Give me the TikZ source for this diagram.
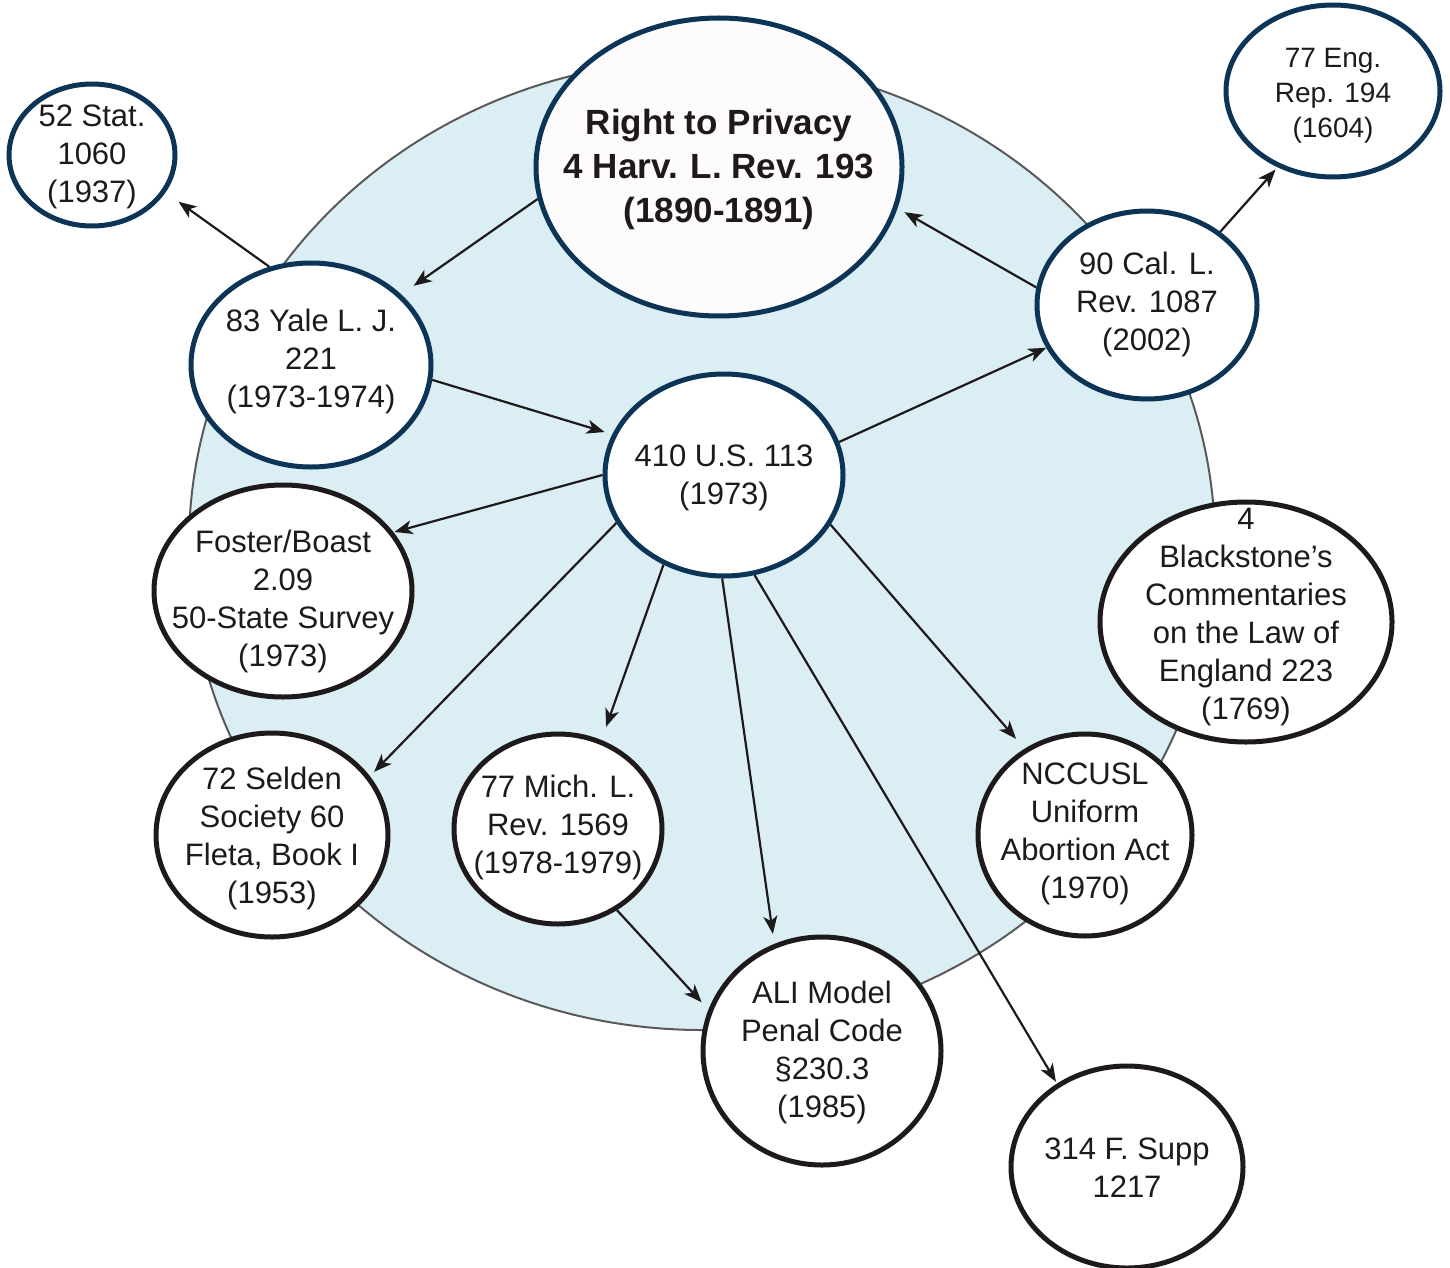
\documentclass[tikz,border=0pt]{standalone}
\usepackage{fontspec}
\setmainfont{Liberation Sans}
\usetikzlibrary{shapes.geometric,arrows.meta}
\definecolor{RingFill}{HTML}{DAEEF4}
\definecolor{RingLine}{HTML}{5A5A5A}
\definecolor{CaseNavy}{HTML}{0C3456}
\definecolor{CaseInk}{HTML}{1E1A1B}
\definecolor{TitleFill}{HTML}{FDFBFC}
% text block that does not grow the ellipse
\newcommand{\casetext}[2]{\raisebox{#1}[0pt][0pt]{\makebox[0pt]{\begin{tabular}[t]{@{}c@{}}#2\end{tabular}}}}

\begin{document}
\begin{tikzpicture}[x=1pt,y=-1pt,
  case/.style={ellipse,inner sep=0pt,fill=white,line width=5pt,text=CaseInk,
    font=\fontsize{31}{38}\selectfont},
  casenavy/.style={case,draw=CaseNavy},
  caseblack/.style={case,draw=CaseInk},
  link/.style={draw=CaseInk,line width=2.2pt,-{Stealth[length=18pt,width=14pt,inset=5pt]}}]
  \useasboundingbox (0,0) rectangle (1450,1268);
  \fill[RingFill,draw=RingLine,line width=2pt] (702,545) ellipse [x radius=513pt,y radius=485pt];

  \node[casenavy,fill=TitleFill,minimum width=366pt,minimum height=298pt,
    font=\fontsize{35}{44}\selectfont\bfseries] (harvard) at (719,167)
    {\casetext{32pt}{Right to Privacy\\4 Harv. L. Rev. 193\\(1890-1891)}};
  \node[casenavy,minimum width=166pt,minimum height=142pt] (stat) at (92,155)
    {\casetext{28pt}{52 Stat.\\1060\\(1937)}};
  \node[casenavy,minimum width=240pt,minimum height=204pt] (yale) at (311,365)
    {\casetext{34pt}{83 Yale L. J.\\221\\(1973-1974)}};
  \node[casenavy,minimum width=214pt,minimum height=172pt,
    font=\fontsize{28}{35}\selectfont] (eng) at (1333,91)
    {\casetext{23pt}{77 Eng.\\Rep. 194\\(1604)}};
  \node[casenavy,minimum width=220pt,minimum height=188pt] (cal) at (1147,305)
    {\casetext{31pt}{90 Cal. L.\\Rev. 1087\\(2002)}};
  \node[casenavy,minimum width=238pt,minimum height=202pt] (us410) at (724,475)
    {\casetext{9pt}{410 U.S. 113\\(1973)}};

  \node[caseblack,minimum width=258pt,minimum height=212pt] (foster) at (283,591)
    {\casetext{39pt}{Foster/Boast\\2.09\\50-State Survey\\(1973)}};
  \node[caseblack,minimum width=232pt,minimum height=204pt] (selden) at (272,835)
    {\casetext{46pt}{72 Selden\\Society 60\\Fleta, Book I\\(1953)}};
  \node[caseblack,minimum width=292pt,minimum height=240pt] (blackstone) at (1246,622)
    {\casetext{93pt}{4\\Blackstone’s\\Commentaries\\on the Law of\\England 223\\(1769)}};
  \node[caseblack,minimum width=214pt,minimum height=202pt] (nccusl) at (1085,835)
    {\casetext{51pt}{NCCUSL\\Uniform\\Abortion Act\\(1970)}};
  \node[caseblack,minimum width=208pt,minimum height=190pt] (mich) at (558,829)
    {\casetext{32pt}{77 Mich. L.\\Rev. 1569\\(1978-1979)}};
  \node[caseblack,minimum width=238pt,minimum height=228pt] (ali) at (822,1051)
    {\casetext{48pt}{ALI Model\\Penal Code\\§230.3\\(1985)}};
  \node[caseblack,minimum width=232pt,minimum height=202pt] (fsupp) at (1127,1167)
    {\casetext{8pt}{314 F. Supp\\1217}};

  % citations
  \draw[link,shorten >=15pt] (harvard.190) -- (yale.38);
  \draw[link,shorten >=16pt] (yale.113) -- (stat.333);
  \draw[link,shorten >=8pt] (yale.353) -- (us410.160);
  \draw[link] (us410.16) -- (cal.203.5);
  \draw[link,shorten >=8pt] (cal.171) -- (harvard.347);
  \draw[link,shorten >=3pt] (cal.45) -- (eng.234);
  \draw[link,shorten >=1pt] (us410.180) -- (foster.28);
  \draw[link,shorten >=6pt] (us410.204) -- (selden.31);
  \draw[link,shorten >=14pt] (us410.236) -- (mich.64);
  \draw[link,shorten >=10pt] (us410.269) -- (ali.114);
  \draw[link,shorten >=2pt] (us410.287) -- (fsupp.130);
  \draw[link,shorten >=13pt] (us410.335) -- (nccusl.125);
  \draw[link,shorten >=10pt] (mich.306) -- (ali.160);
\end{tikzpicture}
\end{document}
